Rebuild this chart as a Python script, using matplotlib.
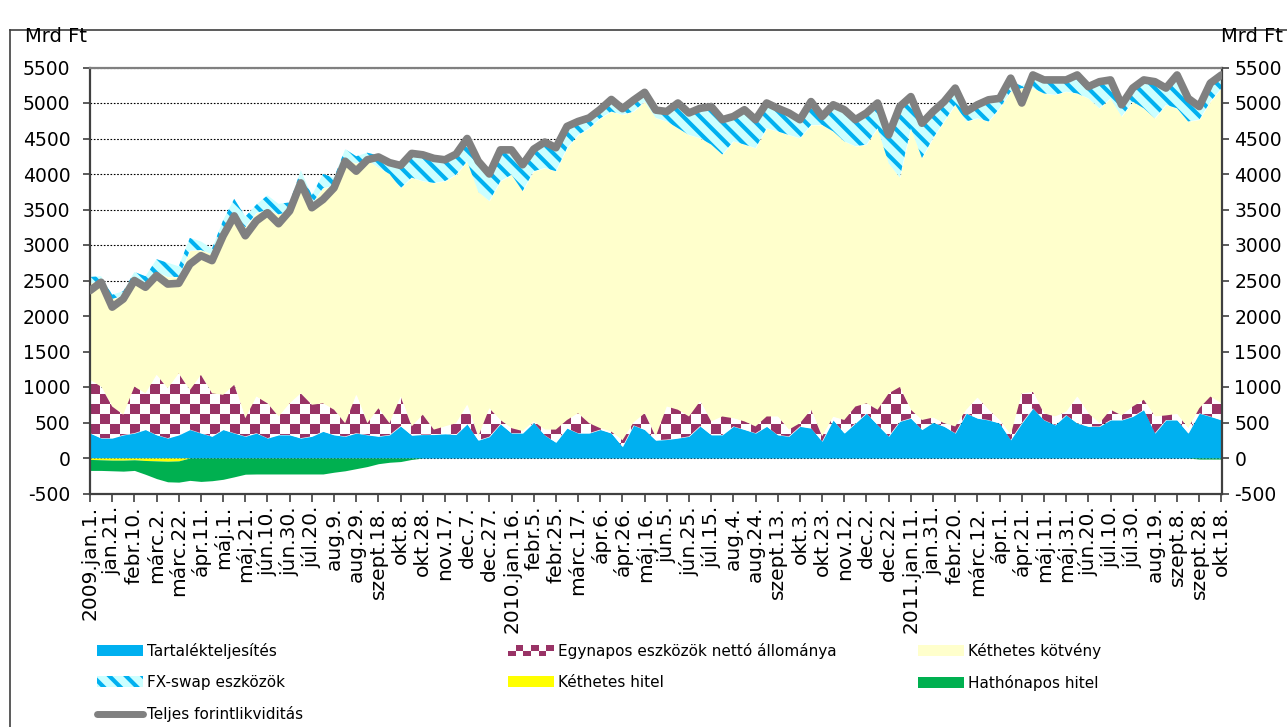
import numpy as np
import matplotlib
matplotlib.use("Agg")
import matplotlib.pyplot as plt
from matplotlib.patches import Rectangle, Patch
from matplotlib.lines import Line2D
from matplotlib.path import Path
from matplotlib.colors import ListedColormap
from matplotlib.legend_handler import HandlerBase

plt.rcParams["font.family"] = ["DejaVu Sans"]
plt.rcParams["hatch.linewidth"] = 3.0
plt.rcParams["axes.unicode_minus"] = False

# napok 2009.jan.1-tol, 10 naponkent
napok = np.arange(0, 1021, 10)

tartalek = [350, 280, 280, 325, 350, 400, 325, 280, 325, 400,
            350, 305, 400, 350, 305, 350, 280, 325, 325, 280,
            305, 375, 325, 305, 350, 325, 305, 325, 450, 320,
            330, 330, 340, 330, 480, 250, 300, 480, 350, 350,
            500, 320, 220, 420, 350, 350, 400, 350, 160, 460,
            400, 250, 260, 280, 305, 450, 325, 325, 445, 400,
            350, 445, 325, 305, 445, 420, 235, 535, 350, 490,
            630, 465, 305, 515, 560, 400, 500, 445, 350, 630,
            560, 535, 490, 255, 490, 700, 535, 465, 605, 490,
            445, 445, 535, 535, 585, 680, 350, 535, 535, 350,
            630, 585, 535]

egynapos = [750, 725, 445, 285, 655, 510, 845, 700, 865, 555,
            820, 605, 490, 680, 255, 515, 490, 260, 445, 630,
            445, 395, 355, 185, 540, 165, 395, 165, 415, 125,
            280, 70, 105, 160, 270, 50, 400, 55, 70, 30,
            15, 80, 180, 115, 280, 140, 20, 20, 90, 40,
            230, 50, 465, 400, 280, 350, 190, 260, 115, 115,
            95, 140, 260, 95, 45, 260, 70, 45, 185, 235,
            140, 215, 605, 485, 120, 135, 70, 45, 95, 50,
            290, 145, 45, 70, 420, 230, 95, 120, 45, 375,
            185, 45, 145, 65, 140, 140, 235, 65, 85, 70,
            70, 280, 235]

kotveny = [1370, 1455, 1515, 1680, 1515, 1530, 1450, 1570, 1360, 1965,
           1760, 1960, 2310, 2400, 2690, 2585, 2730, 2845, 2710, 2960,
           2830, 3030, 3150, 3710, 3260, 3710, 3390, 3510, 2935, 3505,
           3290, 3475, 3455, 3500, 3430, 3450, 2920, 3365, 3570, 3380,
           3525, 3685, 3640, 3830, 3920, 4155, 4365, 4510, 4585, 4380,
           4390, 4490, 4015, 3965, 3965, 3705, 3900, 3690, 3900, 3900,
           3920, 4060, 4015, 4150, 4015, 4010, 4385, 4020, 3925, 3665,
           3645, 3965, 3240, 2950, 3965, 3690, 3935, 4250, 4530, 4060,
           3935, 4060, 4390, 4835, 4300, 4280, 4505, 4530, 4510, 4270,
           4435, 4435, 4385, 4210, 4295, 4105, 4200, 4375, 4305, 4320,
           4065, 4155, 4440]

fx_swap = [80, 100, 60, 60, 100, 120, 180, 200, 150, 180,
           120, 80, 150, 220, 150, 120, 200, 150, 120, 180,
           120, 200, 120, 150, 100, 100, 170, 120, 280, 300,
           330, 305, 260, 250, 280, 390, 340, 400, 310, 330,
           270, 325, 290, 265, 150, 105, 85, 130, 45, 120,
           90, 70, 100, 315, 270, 380, 495, 450, 310, 450,
           360, 315, 285, 270, 220, 290, 80, 335, 405, 335,
           405, 315, 360, 960, 405, 450, 335, 240, 195, 100,
           150, 265, 100, 150, 30, 145, 150, 170, 125, 220,
           125, 335, 220, 125, 150, 360, 475, 195, 430, 285,
           145, 220, 145]

ketheti_hitel = [-20, -25, -30, -30, -25, -35, -40, -45, -40] + [0] * 94

hathonapos = ([-155, -150, -150, -155, -150, -195, -250, -290, -300, -315,
               -330, -320, -300, -265, -228, -225, -225, -225, -225, -225,
               -225, -225, -200, -180, -150, -120, -80, -60, -50, -20]
              + [0] * 70 + [-15, -15, -15])

teljes = [2358, 2475, 2125, 2240, 2500, 2405, 2570, 2450, 2460, 2730,
          2850, 2780, 3130, 3410, 3130, 3340, 3455, 3300, 3480, 3875,
          3525, 3640, 3805, 4180, 4040, 4200, 4240, 4160, 4120, 4290,
          4270, 4220, 4200, 4280, 4500, 4180, 4000, 4340, 4340, 4130,
          4350, 4450, 4370, 4670, 4740, 4790, 4910, 5050, 4920, 5040,
          5150, 4900, 4880, 5000, 4860, 4925, 4950, 4765, 4810, 4905,
          4765, 5000, 4925, 4860, 4765, 5020, 4810, 4975, 4905, 4765,
          4860, 5000, 4550, 4950, 5090, 4715, 4880, 5020, 5210, 4880,
          4975, 5045, 5065, 5350, 5000, 5395, 5325, 5325, 5325, 5395,
          5230, 5300, 5325, 4975, 5210, 5325, 5300, 5210, 5395, 5065,
          4950, 5280, 5395]

tick_cimkek = ["2009.jan.1.", "jan.21.", "febr.10.", "márc.2.", "márc.22.", "ápr.11.",
               "máj.1.", "máj.21.", "jún.10.", "jún.30.", "júl.20.", "aug.9.", "aug.29.",
               "szept.18.", "okt.8.", "okt.28.", "nov.17.", "dec.7.", "dec.27.",
               "2010.jan.16.", "febr.5.", "febr.25.", "márc.17.", "ápr.6.", "ápr.26.",
               "máj.16.", "jún.5.", "jún.25.", "júl.15.", "aug.4.", "aug.24.", "szept.13.",
               "okt.3.", "okt.23.", "nov.12.", "dec.2.", "dec.22.",
               "2011.jan.11.", "jan.31.", "febr.20.", "márc.12.", "ápr.1.", "ápr.21.",
               "máj.11.", "máj.31.", "jún.20.", "júl.10.", "júl.30.", "aug.19.",
               "szept.8.", "szept.28.", "okt.18."]

KEK = "#00B0F0"
BORDO = "#993366"
SARGA = "#FFFFCC"
CIAN = "#CCFFFF"
ZOLD = "#00B050"
SZURKE = "#808080"
KERET = "#404040"

W, H = 1287, 727
fig = plt.figure(figsize=(W / 100, H / 100), dpi=100)
ax = fig.add_axes([90 / W, 1 - 493.5 / H, 1132 / W, 426 / H])

x = napok
y1 = np.array(tartalek, float)
y2 = y1 + np.array(egynapos)
y3 = y2 + np.array(kotveny)
y4 = y3 + np.array(fx_swap)
n1 = np.array(ketheti_hitel, float)
n2 = n1 + np.array(hathonapos)

ax.fill_between(x, 0, y1, color=KEK, lw=0, zorder=2)
poly = ax.fill_between(x, y1, y2, facecolor="none", lw=0, zorder=2)
ax.fill_between(x, y2, y3, color=SARGA, lw=0, zorder=2)
ax.fill_between(x, y3, y4, facecolor=CIAN, edgecolor=KEK,
                hatch="\\\\", lw=0, zorder=2)
ax.fill_between(x, 0, n1, color="#FFFF00", lw=0, zorder=2)
ax.fill_between(x, n1, n2, color=ZOLD, lw=0, zorder=2)

# sakktabla minta az egynapos eszkozokhoz
sakk = np.add.outer(np.arange(43), np.arange(113)) % 2
im = ax.imshow(sakk, extent=(0, 1020, -500, 5500), origin="lower", aspect="auto",
               cmap=ListedColormap([BORDO, "white"]), interpolation="nearest", zorder=2)
im.set_clip_path(Path.make_compound_path(*poly.get_paths()), ax.transData)

ax.plot(x, teljes, color=SZURKE, lw=5.5, solid_joinstyle="round",
        solid_capstyle="round", zorder=5)

ax.set_xlim(0, 1020.5)
ax.set_ylim(-500, 5500)
ax.set_yticks(range(-500, 5501, 500))
ax.set_xticks(range(0, 1021, 20))
ax.set_xticklabels(tick_cimkek, rotation=90, fontsize=14.5)
ax.tick_params(axis="y", direction="out", length=5, labelsize=13.5, pad=9,
               color=KERET, width=1.2)
ax.tick_params(axis="x", direction="out", length=6, pad=3, color=KERET, width=1.2)
ax.yaxis.grid(True, linestyle=(0, (1.5, 1.5)), color="black", linewidth=0.8)
ax.set_axisbelow(True)
for s in ["left", "bottom", "right"]:
    ax.spines[s].set_color(KERET)
    ax.spines[s].set_linewidth(1.6)
ax.spines["top"].set_color(SZURKE)
ax.spines["top"].set_linewidth(1.6)

# jobb oldali tengely ugyanazzal a skalaval
ax2 = ax.twinx()
ax2.set_ylim(ax.get_ylim())
ax2.set_yticks(range(-500, 5501, 500))
ax2.tick_params(axis="y", direction="out", length=5, labelsize=13.5, pad=4,
                color=KERET, width=1.2)
for s in ax2.spines.values():
    s.set_visible(False)

fig.text(25 / W, 1 - 37 / H, "Mrd Ft", fontsize=14, va="center", ha="left")
fig.text(1283 / W, 1 - 37 / H, "Mrd Ft", fontsize=14, va="center", ha="right")

# kulso keret
fig.add_artist(Line2D([10 / W, 10 / W], [0, 1 - 30 / H], color=KERET, lw=1.2))
fig.add_artist(Line2D([10 / W, 1], [1 - 30 / H, 1 - 30 / H], color=KERET, lw=1.2))


class SakkHandler(HandlerBase):
    def create_artists(self, legend, orig_handle, xdescent, ydescent,
                       width, height, fontsize, trans):
        db = []
        n = 6
        w = width / n
        h = height / 2
        for r in range(2):
            for c in range(n):
                szin = BORDO if (r + c) % 2 == 0 else "white"
                db.append(Rectangle((-xdescent + c * w, -ydescent + r * h), w, h,
                                    facecolor=szin, edgecolor="none", transform=trans))
        return db


h_t = Patch(facecolor=KEK, edgecolor="none")
h_e = Patch(facecolor=BORDO, edgecolor="none")
h_k = Patch(facecolor=SARGA, edgecolor="none")
h_fx = Patch(facecolor=CIAN, edgecolor=KEK, hatch="\\\\", lw=0)
h_kh = Patch(facecolor="#FFFF00", edgecolor="none")
h_h = Patch(facecolor=ZOLD, edgecolor="none")
h_l = Line2D([], [], color=SZURKE, lw=5, solid_capstyle="round")

leg_kw = dict(loc="upper left", frameon=False, fontsize=11, handlelength=3.0,
              handleheight=0.7, handletextpad=0.3, labelspacing=1.05,
              borderpad=0, borderaxespad=0, handler_map={h_e: SakkHandler()})
fig.legend([h_t, h_fx, h_l], ["Tartalékteljesítés", "FX-swap eszközök", "Teljes forintlikviditás"],
           bbox_to_anchor=(97 / W, 1 - 643 / H), **leg_kw)
fig.legend([h_e, h_kh], ["Egynapos eszközök nettó állománya", "Kéthetes hitel"],
           bbox_to_anchor=(508 / W, 1 - 643 / H), **leg_kw)
fig.legend([h_k, h_h], ["Kéthetes kötvény", "Hathónapos hitel"],
           bbox_to_anchor=(918 / W, 1 - 643 / H), **leg_kw)

fig.savefig("out.png", dpi=100)
